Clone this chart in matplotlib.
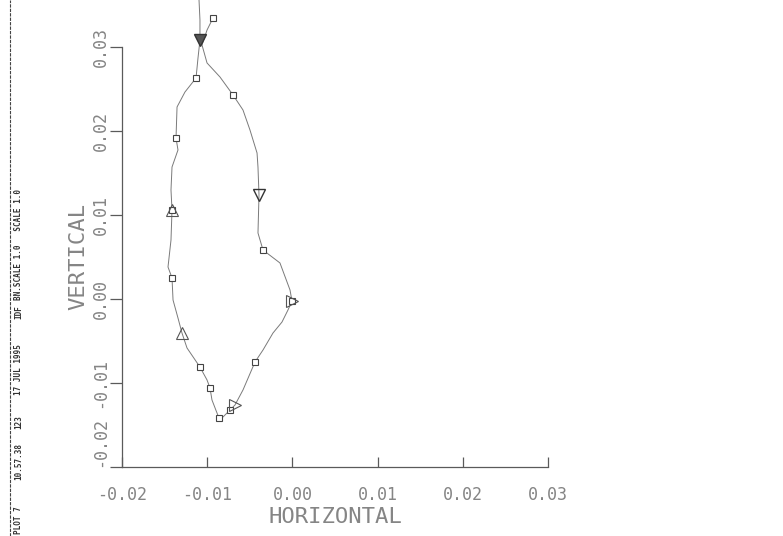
import matplotlib
matplotlib.use('Agg')
import matplotlib.pyplot as plt
import numpy as np

# traced loop, in order along the curve
hx = [-0.01096, -0.01085, -0.01085, -0.01108, -0.01131, -0.01261, -0.01354, -0.01366,
      -0.01343, -0.01413, -0.01425, -0.01413, -0.01425, -0.01460, -0.01413, -0.01401,
      -0.01343, -0.01296, -0.01237, -0.01085, -0.01002, -0.00967, -0.00944, -0.00885,
      -0.00862, -0.00815, -0.00732, -0.00674, -0.00580, -0.00439, -0.00345, -0.00228,
      -0.00122, -0.00052, -0.00005, -0.00028, -0.00146, -0.00345, -0.00404, -0.00392,
      -0.00404, -0.00415, -0.00498, -0.00580, -0.00697, -0.00850, -0.01002, -0.01061,
      -0.01002, -0.00932]
vy = [0.03560, 0.03321, 0.03083, 0.02869, 0.02631, 0.02464, 0.02286, 0.01917,
      0.01774, 0.01571, 0.01298, 0.01060, 0.00702, 0.00381, 0.00250, -0.00012,
      -0.00226, -0.00405, -0.00583, -0.00810, -0.00964, -0.01060, -0.01202, -0.01357,
      -0.01417, -0.01405, -0.01321, -0.01262, -0.01083, -0.00750, -0.00607, -0.00405,
      -0.00274, -0.00131, -0.00024, 0.00107, 0.00429, 0.00583, 0.00786, 0.01238,
      0.01571, 0.01738, 0.02012, 0.02250, 0.02429, 0.02643, 0.02810, 0.03024,
      0.03202, 0.03345]

sq_idx = [4, 7, 11, 14, 19, 21, 24, 26, 29, 34, 37, 44, 49]
tri_up_idx = [11, 17]
tri_top_idx = [2]
tri_dn_idx = [39]
tri_rt_idx = [27, 34]

ticks = [-0.02, -0.01, 0.00, 0.01, 0.02, 0.03]
tick_labels = ['-0.02', '-0.01', '0.00', '0.01', '0.02', '0.03']

sidebar = [('PLOT 7', 520), ('10.57.38', 462), ('123', 422), ('17 JUL 1995', 370),
           ('IDF', 312), ('BN.SCALE 1.0   SCALE 1.0', 245)]

txt = '#858585'
ln = '#5a5a5a'
font = 'DejaVu Sans Mono'

fig = plt.figure(figsize=(7.83, 5.36), dpi=100)
ax = fig.add_axes([122/783, 69/536, 426/783, 420/536])

ax.plot(hx, vy, color='#7a7a7a', lw=0.7, clip_on=False)
hx = np.array(hx)
vy = np.array(vy)
ax.plot(hx[sq_idx], vy[sq_idx], 's', ms=3.8, mfc='white', mec='#444444', mew=0.8, clip_on=False)
ax.plot(hx[tri_up_idx], vy[tri_up_idx], '^', ms=9, mfc='none', mec='#555555', mew=0.8, clip_on=False)
ax.plot(hx[tri_top_idx], vy[tri_top_idx], 'v', ms=9, mfc='#555555', mec='#333333', mew=1.0, clip_on=False)
ax.plot(hx[tri_dn_idx], vy[tri_dn_idx], 'v', ms=9, mfc='none', mec='#333333', mew=1.0, clip_on=False)
ax.plot(hx[tri_rt_idx], vy[tri_rt_idx], '>', ms=9, mfc='none', mec='#555555', mew=0.8, clip_on=False)

ax.set_xlim(-0.02, 0.03)
ax.set_ylim(-0.02, 0.03)
for s in ['top', 'right']:
    ax.spines[s].set_visible(False)
for s in ['left', 'bottom']:
    ax.spines[s].set_color(ln)
    ax.spines[s].set_linewidth(0.9)

ax.set_xticks(ticks)
ax.set_xticklabels(tick_labels, family=font, fontsize=12, color=txt)
ax.set_yticks(ticks)
ax.set_yticklabels(tick_labels, family=font, fontsize=12, color=txt, rotation=90, va='center')
ax.tick_params(axis='x', direction='in', length=7, width=0.9, color=ln, pad=14)
ax.tick_params(axis='y', direction='out', length=9, width=0.9, color=ln, pad=0)
# lowest vertical label sits above its tick, clear of the horizontal one
ax.get_yticklabels()[0].set_verticalalignment('bottom')

ax.set_xlabel('HORIZONTAL', family=font, fontsize=16, color=txt, labelpad=2)
ax.set_ylabel('VERTICAL', family=font, fontsize=16, color=txt, labelpad=2)

# plotter sidebar on the left edge
fig.add_artist(plt.Line2D([10/783, 10/783], [0, 1], color='#444444', lw=0.8, ls=(0, (3, 1))))
for s, py in sidebar:
    fig.text(14/783, 1 - py/536, s, rotation=90, ha='left', va='center',
             fontsize=5.5, fontweight='bold', color='#333333', family=font)

fig.savefig('out.png', dpi=100)
